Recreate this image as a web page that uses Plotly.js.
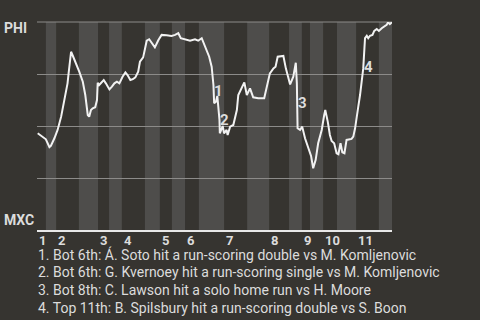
<!DOCTYPE html>
<html>
<head>
<meta charset="utf-8">
<script src="https://cdn.plot.ly/plotly-3.0.1.min.js"></script>
<style>
  html, body { margin: 0; padding: 0; background: #363430; }
  #chart { width: 480px; height: 320px; }
</style>
</head>
<body>
<div id="chart"></div>
<script>
// Game progress (0-100) and PHI win probability
const progress = [0.2,1.6,2.5,3.5,3.9,4.9,5.8,6.8,7.7,8.6,8.9,9.6,10.2,11.0,11.9,12.9,13.6,14.3,14.7,15.2,15.7,16.4,16.9,17.1,17.5,18.1,18.8,19.4,20.4,21.1,21.8,22.5,23.2,24.1,24.9,25.5,26.3,27.0,27.7,28.5,29.0,29.9,30.4,30.9,31.6,32.3,33.2,34.2,35.1,36.5,37.9,38.9,39.8,40.5,41.7,43.1,44.5,45.4,46.4,47.0,47.8,48.5,49.2,49.7,49.9,50.4,50.8,51.1,51.4,51.5,52.3,52.7,53.4,53.7,54.4,55.3,56.3,56.7,57.7,58.4,59.1,60.0,60.9,62.3,64.0,64.7,65.6,66.6,67.2,67.8,69.4,70.1,71.3,72.2,72.9,73.2,73.4,74.1,74.7,75.5,76.4,77.2,77.8,78.5,79.2,80.2,80.9,81.2,81.9,82.5,83.0,83.7,84.4,84.9,85.5,86.0,86.6,87.2,88.6,89.1,89.6,90.1,90.5,91.0,91.5,91.9,92.4,92.9,93.3,93.8,94.5,95.0,95.7,96.3,97.1,97.8,98.5,98.9,99.4,100];
const winProb = [0.465,0.449,0.436,0.398,0.404,0.441,0.481,0.545,0.617,0.705,0.753,0.857,0.833,0.801,0.761,0.713,0.649,0.553,0.545,0.577,0.585,0.590,0.625,0.708,0.697,0.708,0.721,0.705,0.676,0.689,0.705,0.713,0.705,0.737,0.758,0.745,0.721,0.725,0.734,0.761,0.809,0.830,0.865,0.910,0.917,0.898,0.878,0.913,0.938,0.936,0.933,0.938,0.946,0.922,0.917,0.910,0.917,0.910,0.922,0.898,0.865,0.833,0.785,0.697,0.609,0.617,0.644,0.593,0.529,0.465,0.500,0.465,0.481,0.457,0.497,0.505,0.577,0.649,0.689,0.710,0.649,0.681,0.638,0.633,0.633,0.689,0.753,0.777,0.785,0.833,0.837,0.777,0.700,0.737,0.804,0.705,0.489,0.481,0.497,0.441,0.393,0.356,0.297,0.337,0.417,0.481,0.553,0.577,0.521,0.457,0.428,0.417,0.369,0.364,0.417,0.374,0.369,0.433,0.438,0.449,0.489,0.537,0.593,0.649,0.713,0.777,0.922,0.934,0.922,0.934,0.938,0.957,0.966,0.957,0.970,0.978,0.986,0.999,0.990,0.999];

// Half-inning boundaries (game progress)
const halfInningEdges = [0,2.5,5.4,11.8,17.2,20.3,23.9,30.4,34.6,38.0,41.7,45.6,52.7,59.2,65.4,71.0,74.6,76.9,80.6,84.5,89.9,96.3,100];
const inningLabels = ["1","2","3","4","5","6","7","8","9","10","11"];

// Key events
const eventNums = ["1","2","3","4"];
const eventX = [51.0,52.9,74.9,93.4];
const eventY = [0.668,0.529,0.61,0.784];
const eventTexts = [
  "1. Bot 6th: Á. Soto hit a run-scoring double vs M. Komljenovic",
  "2. Bot 6th: G. Kvernoey hit a run-scoring single vs M. Komljenovic",
  "3. Bot 8th: C. Lawson hit a solo home run vs H. Moore",
  "4. Top 11th: B. Spilsbury hit a run-scoring double vs S. Boon"
];
const topTeam = "PHI";
const bottomTeam = "MXC";

const BG = "#363430";
const BAND = "#4e4d4b";
const TEXT = "#dcdcdc";
const GRID = "#8c8b89";
const FONT = "Roboto, 'Noto Sans', sans-serif";

const shapes = [];
for (let i = 0; i < halfInningEdges.length - 1; i++) {
  if (i % 2 === 1) {
    shapes.push({type: "rect", xref: "x", yref: "paper", x0: halfInningEdges[i], x1: halfInningEdges[i+1], y0: 0, y1: 1, fillcolor: BAND, line: {width: 0}, layer: "below"});
  }
}
// top frame line (100% line)
shapes.push({type: "line", xref: "paper", yref: "paper", x0: 0, x1: 1, y0: 1, y1: 1, line: {color: GRID, width: 1}, layer: "between"});

const annotations = [];
inningLabels.forEach((lab, k) => {
  annotations.push({xref: "x", yref: "paper", x: halfInningEdges[2*k], y: 0, xanchor: "left", yanchor: "top", xshift: 0, yshift: -1, text: "<b>" + lab + "</b>", showarrow: false, font: {family: FONT, size: 13, color: TEXT}});
});
eventNums.forEach((n, k) => {
  annotations.push({xref: "x", yref: "y", x: eventX[k], y: eventY[k], text: "<b>" + n + "</b>", showarrow: false, font: {family: FONT, size: 15, color: TEXT}});
});
eventTexts.forEach((t, k) => {
  annotations.push({xref: "paper", yref: "paper", x: 0, xshift: -1, y: 0, yshift: -14 - 18*k, xanchor: "left", yanchor: "top", text: t, showarrow: false, font: {family: FONT, size: 14, color: TEXT}});
});
annotations.push({xref: "paper", yref: "paper", x: 0, xshift: -35, y: 1, yshift: -6, xanchor: "left", yanchor: "middle", text: "<b>" + topTeam + "</b>", showarrow: false, font: {family: FONT, size: 14, color: TEXT}});
annotations.push({xref: "paper", yref: "paper", x: 0, xshift: -35, y: 0, yshift: 10, xanchor: "left", yanchor: "middle", text: "<b>" + bottomTeam + "</b>", showarrow: false, font: {family: FONT, size: 14, color: TEXT}});

const trace = {
  x: progress, y: winProb, type: "scatter", mode: "lines",
  line: {color: "#f2f2f2", width: 2}, hoverinfo: "skip"
};

const layout = {
  width: 480, height: 320,
  paper_bgcolor: BG, plot_bgcolor: BG,
  margin: {l: 37, r: 88, t: 22, b: 90},
  showlegend: false,
  xaxis: {range: [0, 100], showgrid: false, zeroline: false, showticklabels: false, ticks: "", showline: true, linecolor: "#e8e8e8", linewidth: 2},
  yaxis: {range: [0, 1], tickvals: [0.25, 0.5, 0.75], showticklabels: false, ticks: "", gridcolor: GRID, gridwidth: 1, zeroline: false, showline: false},
  shapes: shapes,
  annotations: annotations
};

Plotly.newPlot("chart", [trace], layout, {displayModeBar: false, staticPlot: true});
</script>
</body>
</html>
